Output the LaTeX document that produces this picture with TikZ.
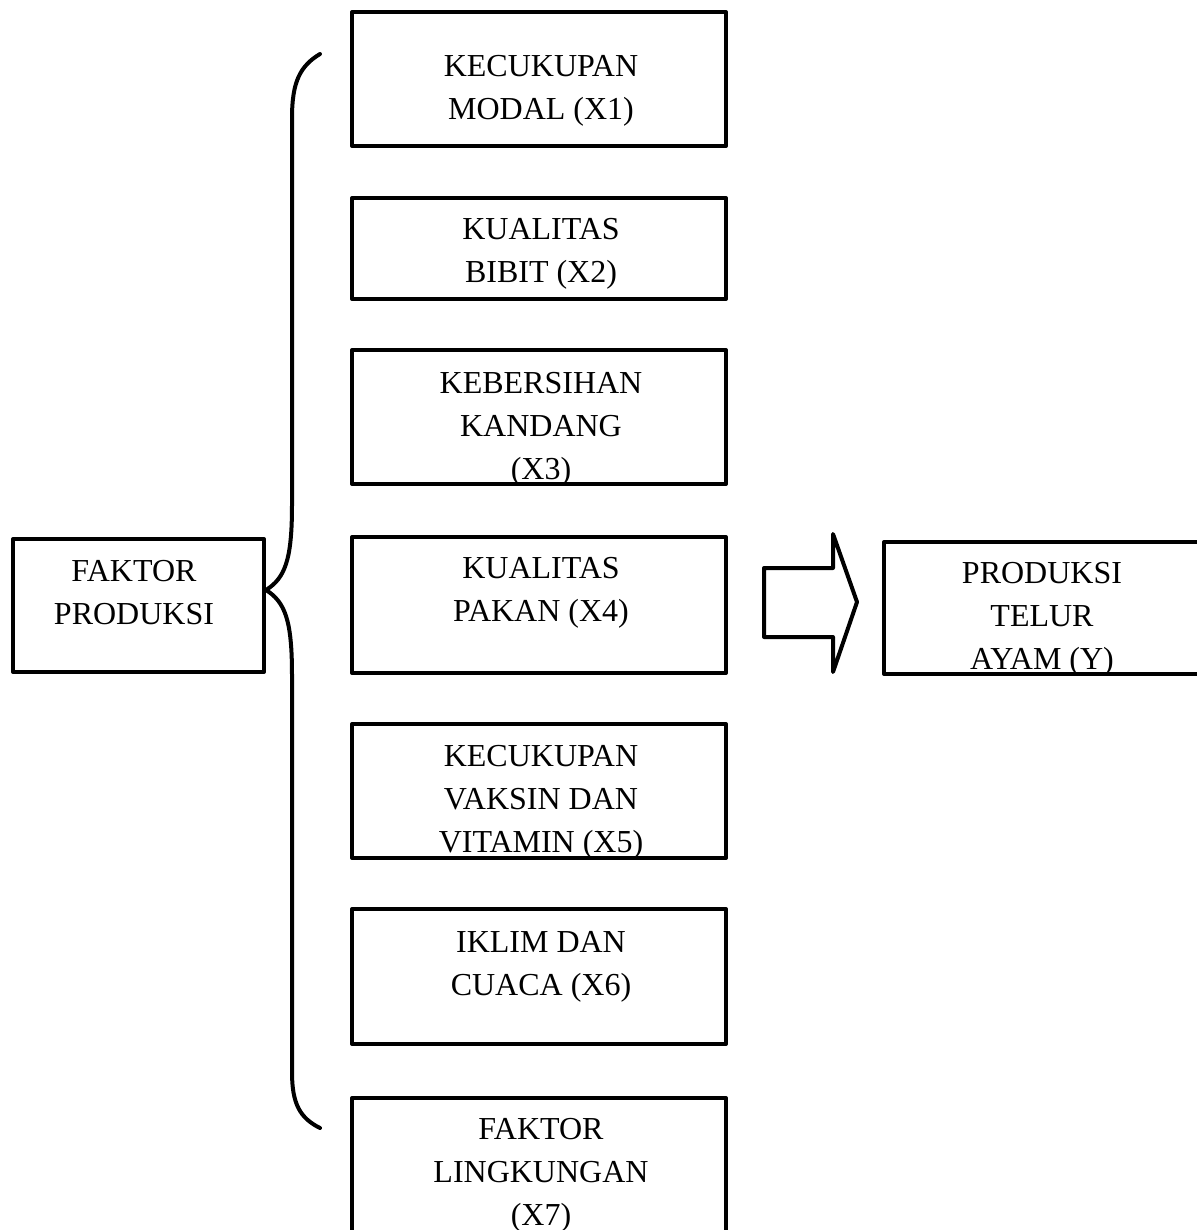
\documentclass[tikz,border=0pt]{standalone}
\usepackage{fontspec}
\setmainfont{Liberation Serif}
\begin{document}
\begin{tikzpicture}[x=0.5pt,y=-0.5pt,
  box/.style={draw,line width=2pt,line join=round,inner sep=0pt},
  lbl/.style={anchor=north,inner sep=0pt,align=center,font=\fontsize{16}{21.5}\selectfont},
  thick line/.style={line width=2pt,line join=round,line cap=round}]
\useasboundingbox (0,0) rectangle (1197,1230);
\clip (0,0) rectangle (1197,1230);
% factor boxes
\node[box,minimum width=187pt,minimum height=67pt] (x1) at (539,79) {};
\node[box,minimum width=187pt,minimum height=50.5pt] (x2) at (539,248.5) {};
\node[box,minimum width=187pt,minimum height=67pt] (x3) at (539,417) {};
\node[box,minimum width=187pt,minimum height=68pt] (x4) at (539,605) {};
\node[box,minimum width=187pt,minimum height=67pt] (x5) at (539,791) {};
\node[box,minimum width=187pt,minimum height=67.5pt] (x6) at (539,976.5) {};
\node[box,minimum width=187pt,minimum height=71pt] (x7) at (539,1169) {};
\node[box,minimum width=125.5pt,minimum height=66.5pt] (fp) at (138.5,605.5) {};
\node[box,minimum width=160pt,minimum height=66pt] (pt) at (1044,608) {};
% labels
\node[lbl] (t1) at (541,55) {KECUKUPAN\\MODAL (X1)};
\node[lbl] (t2) at (541,218) {KUALITAS\\BIBIT (X2)};
\node[lbl] (t3) at (541,372) {KEBERSIHAN\\KANDANG\\(X3)};
\node[lbl] (t4) at (541,557) {KUALITAS\\PAKAN (X4)};
\node[lbl] (t5) at (541,745) {KECUKUPAN\\VAKSIN DAN\\VITAMIN (X5)};
\node[lbl] (t6) at (541,931) {IKLIM DAN\\CUACA (X6)};
\node[lbl] (t7) at (541,1118) {FAKTOR\\LINGKUNGAN\\(X7)};
\node[lbl] (tfp) at (134,560) {FAKTOR\\PRODUKSI};
\node[lbl] (tpt) at (1042,562) {PRODUKSI\\TELUR\\AYAM (Y)};
% brace
\coordinate (btop) at (320,54);
\coordinate (btip) at (266,590);
\coordinate (bbot) at (320,1128);
\draw[thick line] (btop) .. controls (300,66) and (292,82) .. (292,118)
  -- (292,505) .. controls (292,560) and (285,578) .. (btip)
  .. controls (285,602) and (292,620) .. (292,675)
  -- (292,1072) .. controls (292,1104) and (300,1118) .. (bbot);
% block arrow
\draw[thick line] (764,568) -- (833,568) -- (833,534) -- (857,602)
  -- (833,672) -- (833,637) -- (764,637) -- cycle;
\end{tikzpicture}
\end{document}
